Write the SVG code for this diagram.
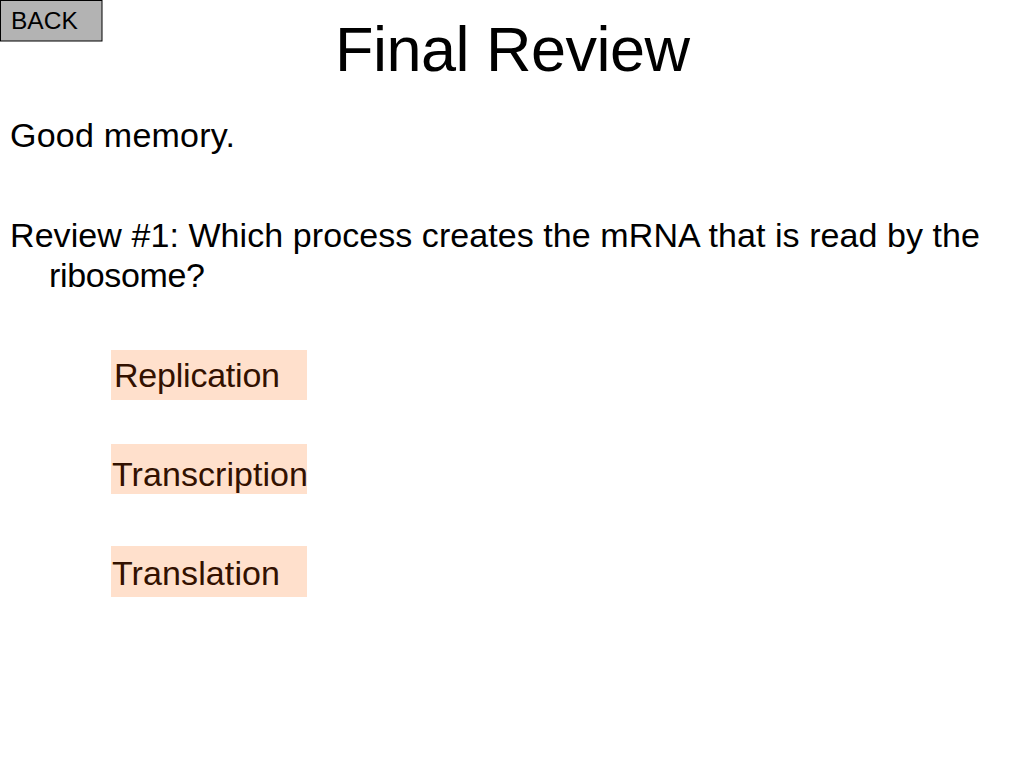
<svg xmlns="http://www.w3.org/2000/svg" width="1024" height="768" viewBox="0 0 1024 768">
<style>
.t{font-family:"Liberation Sans",Arial,Helvetica,sans-serif;fill:#000}
.opt rect{fill:#FFE0CC}
.opt text{font-family:"Liberation Sans",Arial,Helvetica,sans-serif;font-size:34px;fill:#331100}
</style>
<rect width="1024" height="768" fill="#fff"/>
<g id="back">
<rect x="0.5" y="0.5" width="101.5" height="40.5" fill="#B3B3B3" stroke="#000" stroke-width="1"/>
<text class="t" x="11" y="29" font-size="24.5">BACK</text>
</g>
<g id="title"><text class="t" x="335" y="71" font-size="63" textLength="355">Final Review</text></g>
<g id="body">
<text class="t" x="10" y="147" font-size="34" textLength="225">Good memory.</text>
<text class="t" x="10" y="247" font-size="34" textLength="970">Review #1: Which process creates the mRNA that is read by the</text>
<text class="t" x="49" y="287" font-size="34" textLength="156">ribosome?</text>
</g>
<g id="opt1" class="opt"><rect x="111" y="350" width="196" height="50"/><text x="114" y="387" textLength="166">Replication</text></g>
<g id="opt2" class="opt"><rect x="111" y="444" width="196" height="50"/><text x="112" y="486" textLength="196">Transcription</text></g>
<g id="opt3" class="opt"><rect x="111" y="546" width="196" height="51"/><text x="112" y="585" textLength="168">Translation</text></g>
<g id="connectors"/>
</svg>
